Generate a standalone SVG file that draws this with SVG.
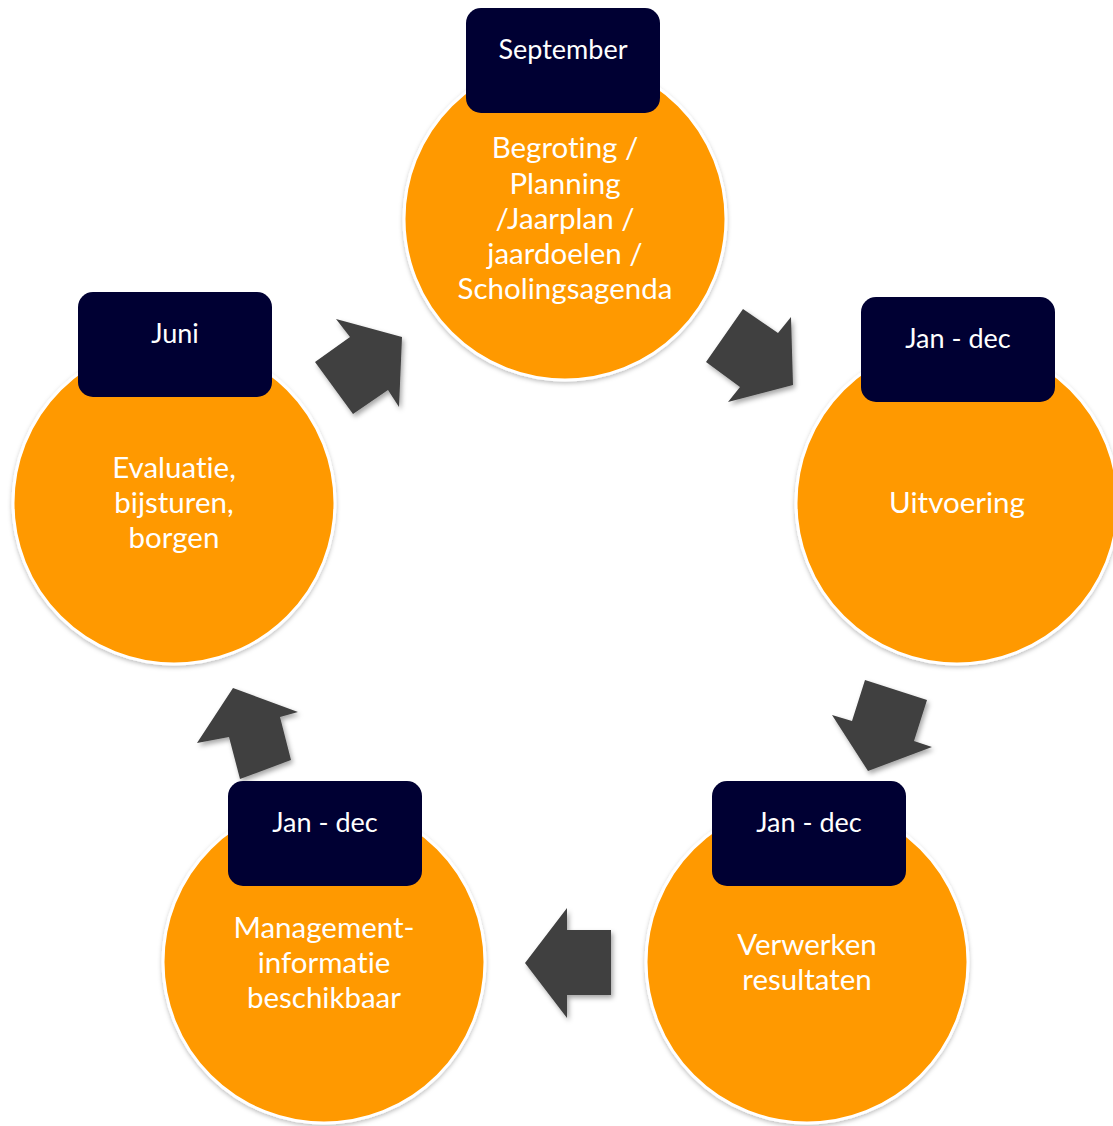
<svg xmlns="http://www.w3.org/2000/svg" width="1113" height="1126" viewBox="0 0 1113 1126">
  <defs>
    <filter id="soft" x="-20%" y="-20%" width="140%" height="140%">
      <feDropShadow dx="0" dy="2" stdDeviation="2" flood-color="#000" flood-opacity="0.25"/>
    </filter>
    <filter id="arrowShadow" x="-20%" y="-20%" width="150%" height="150%">
      <feDropShadow dx="2" dy="3" stdDeviation="2.5" flood-color="#000" flood-opacity="0.35"/>
    </filter>
  </defs>
  <style>
    .disc { fill: #FF9900; stroke: #FFFFFF; stroke-width: 3; filter: url(#soft); }
    .tag { fill: #000033; }
    text { font-family: "Lato", "Open Sans", "Liberation Sans", sans-serif; fill: #FFFFFF; text-anchor: middle; font-variant-ligatures: none; }
    .body { font-size: 29.5px; }
    .when { font-size: 27px; }
    .arrow { fill: #404040; filter: url(#arrowShadow); }
  </style>
  <rect width="1113" height="1126" fill="#FFFFFF"/>

  <!-- arrows between the phases -->
  <g id="connectors">
    <polygon class="arrow" points="336,319 402,337 399,407 388,390 353,414 315,362 350,337"/>
    <polygon class="arrow" points="706,362 743,309 778,333 791,317 793,385 728,402 740,387"/>
    <polygon class="arrow" points="865,680 927,700 914,741 932,747 868,771 832,715 852,721"/>
    <polygon class="arrow" points="567,908 567,930 611,930 611,995 567,995 567,1018 525,963"/>
    <polygon class="arrow" points="233,688 298,712 280,717 291,760 240,779 229,737 197,743"/>
  </g>

  <g id="node-planning">
    <circle class="disc" cx="565" cy="219" r="161"/>
    <rect class="tag" x="466" y="8" width="194" height="105" rx="15"/>
    <text class="when" x="563" y="59">September</text>
    <text class="body" x="565" y="158">Begroting /</text>
    <text class="body" x="565" y="194">Planning</text>
    <text class="body" x="565" y="229">/Jaarplan /</text>
    <text class="body" x="565" y="264">jaardoelen /</text>
    <text class="body" x="565" y="299">Scholingsagenda</text>
  </g>

  <g id="node-uitvoering">
    <circle class="disc" cx="957" cy="503" r="161"/>
    <rect class="tag" x="861" y="297" width="194" height="105" rx="15"/>
    <text class="when" x="958" y="348">Jan - dec</text>
    <text class="body" x="957" y="513">Uitvoering</text>
  </g>

  <g id="node-verwerken">
    <circle class="disc" cx="807" cy="962" r="161"/>
    <rect class="tag" x="712" y="781" width="194" height="105" rx="15"/>
    <text class="when" x="809" y="832">Jan - dec</text>
    <text class="body" x="807" y="955">Verwerken</text>
    <text class="body" x="807" y="990">resultaten</text>
  </g>

  <g id="node-managementinfo">
    <circle class="disc" cx="324" cy="962" r="161"/>
    <rect class="tag" x="228" y="781" width="194" height="105" rx="15"/>
    <text class="when" x="325" y="832">Jan - dec</text>
    <text class="body" x="324" y="938">Management-</text>
    <text class="body" x="324" y="973">informatie</text>
    <text class="body" x="324" y="1008">beschikbaar</text>
  </g>

  <g id="node-evaluatie">
    <circle class="disc" cx="174" cy="503" r="161"/>
    <rect class="tag" x="78" y="292" width="194" height="105" rx="15"/>
    <text class="when" x="175" y="343">Juni</text>
    <text class="body" x="174" y="478">Evaluatie,</text>
    <text class="body" x="174" y="513">bijsturen,</text>
    <text class="body" x="174" y="548">borgen</text>
  </g>
</svg>
